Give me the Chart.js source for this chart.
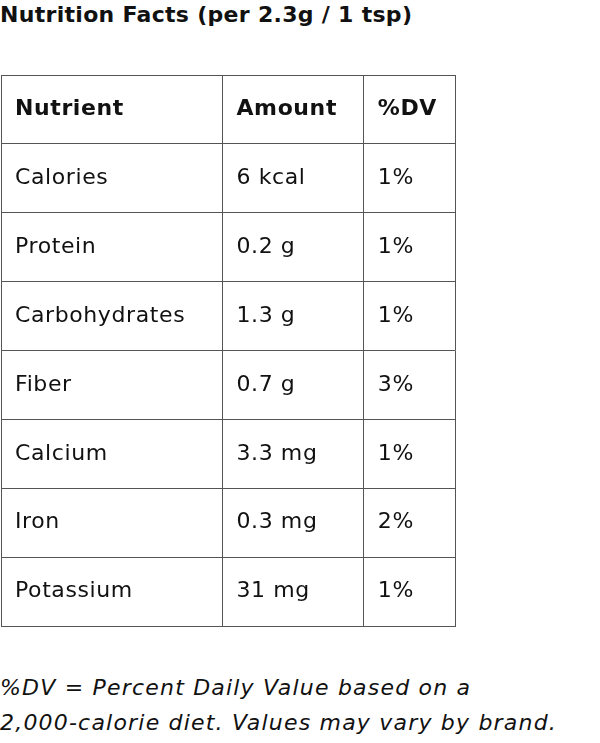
<!DOCTYPE html>
<html>
<head>
<meta charset="utf-8">
<script src="https://cdn.jsdelivr.net/npm/chart.js@4"></script>
<style>
  body { margin: 0; background: #fff; font-family: "DejaVu Sans", sans-serif; color: #111; }
  #title { position: absolute; left: 0; top: 2px; font-size: 22px; font-weight: 700; letter-spacing: 0.3px; white-space: nowrap; }
  #wrap { position: absolute; left: 0; top: 74px; width: 456px; height: 553px; }
  #note { position: absolute; left: 0; top: 670px; font-size: 22px; font-style: italic; line-height: 35px; letter-spacing: 1.2px; white-space: nowrap; }
</style>
</head>
<body>
<div id="title">Nutrition Facts (per 2.3g / 1 tsp)</div>
<div id="wrap"><canvas id="tableChart"></canvas></div>
<div id="note">%DV = Percent Daily Value based on a<br>2,000-calorie diet. Values may vary by brand.</div>
<script>
const headers = ['Nutrient', 'Amount', '%DV'];
const nutrients = ['Calories', 'Protein', 'Carbohydrates', 'Fiber', 'Calcium', 'Iron', 'Potassium'];
const amounts = ['6 kcal', '0.2 g', '1.3 g', '0.7 g', '3.3 mg', '0.3 mg', '31 mg'];
const dailyValues = ['1%', '1%', '1%', '3%', '1%', '2%', '1%'];
const columnEdges = [0, 221, 362, 453];

const rows = [headers].concat(nutrients.map((n, i) => [n, amounts[i], dailyValues[i]]));

// draws the cell text at positions from the chart's scales
const cellText = {
    id: 'cellText',
    afterDraw(chart) {
        const ctx = chart.ctx;
        const xs = chart.scales.x, ys = chart.scales.y;
        ctx.save();
        ctx.fillStyle = '#111';
        ctx.textBaseline = 'middle';
        ctx.letterSpacing = '0.6px';
        rows.forEach((row, r) => {
            ctx.font = (r === 0 ? '700 ' : '400 ') + '22px "DejaVu Sans", sans-serif';
            row.forEach((txt, c) => {
                ctx.fillText(txt, xs.getPixelForValue(columnEdges[c]) + 14, ys.getPixelForValue(r + 0.5));
            });
        });
        ctx.restore();
    }
};

new Chart(document.getElementById('tableChart'), {
    type: 'scatter',
    data: { datasets: [{ data: [] }] },
    options: {
        responsive: true,
        maintainAspectRatio: false,
        animation: false,
        layout: { padding: { left: 1, right: 1, top: 1, bottom: 1 } },
        plugins: { legend: { display: false }, tooltip: { enabled: false } },
        scales: {
            x: {
                type: 'linear', min: 0, max: 453,
                afterBuildTicks: (s) => { s.ticks = columnEdges.map(v => ({ value: v })); },
                ticks: { display: false },
                grid: { color: '#555', lineWidth: 1, drawTicks: false },
                border: { color: '#555' }
            },
            y: {
                type: 'linear', min: 0, max: rows.length, reverse: true,
                afterBuildTicks: (s) => { s.ticks = rows.map((_, i) => ({ value: i })).concat([{ value: rows.length }]); },
                ticks: { display: false },
                grid: { color: '#555', lineWidth: 1, drawTicks: false },
                border: { color: '#555' }
            }
        }
    },
    plugins: [cellText]
});
</script>
</body>
</html>
